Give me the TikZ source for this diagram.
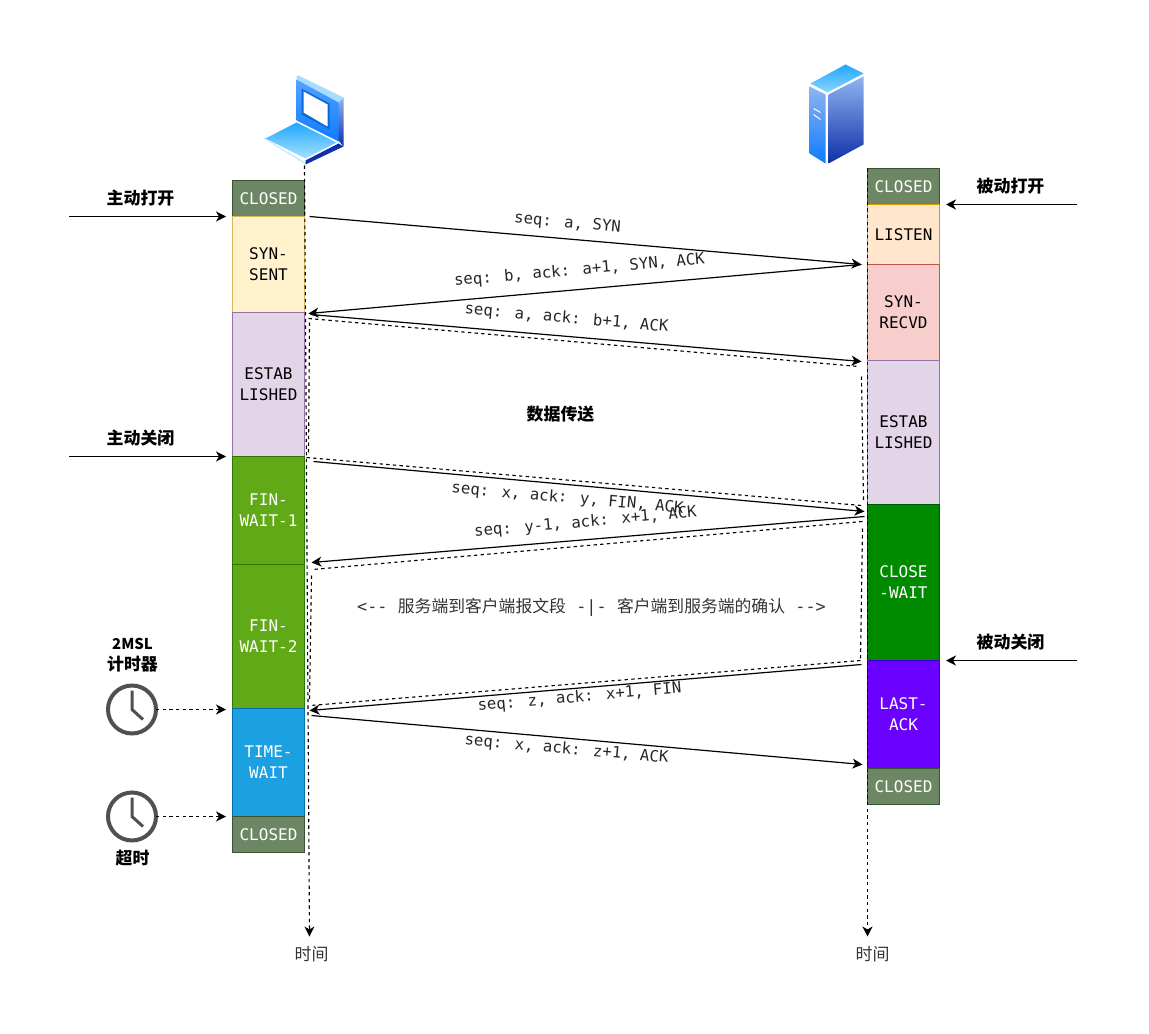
\documentclass[tikz,border=0pt]{standalone}
\usepackage{fontspec}
\usetikzlibrary{arrows.meta}
\newfontfamily\statefont{DejaVu Sans Mono}
\newfontfamily\cjkfont{Noto Sans CJK SC}
\definecolor{frameblue}{HTML}{0C7CFF}
\definecolor{skyblue}{HTML}{1EA8FF}
\definecolor{paleblue}{HTML}{A8E0FF}
\definecolor{navyblue}{HTML}{0F2FA8}
\definecolor{hazeblue}{HTML}{8FB4F0}
\definecolor{clockgray}{HTML}{505050}
\tikzset{
	statebox/.style={draw, minimum width=54pt, align=center, inner sep=0pt, line width=.75pt, font=\statefont\fontsize{12}{15.75}\selectfont},
	closedbox/.style={statebox, fill={rgb,255:red,109;green,135;blue,100}, draw={rgb,255:red,58;green,84;blue,49}, text=white, minimum height=27pt},
	yellowbox/.style={statebox, fill={rgb,255:red,255;green,242;blue,204}, draw={rgb,255:red,214;green,182;blue,86}},
	orangebox/.style={statebox, fill={rgb,255:red,255;green,230;blue,204}, draw={rgb,255:red,215;green,155;blue,0}},
	redbox/.style={statebox, fill={rgb,255:red,248;green,206;blue,204}, draw={rgb,255:red,184;green,84;blue,80}},
	purplebox/.style={statebox, fill={rgb,255:red,225;green,213;blue,231}, draw={rgb,255:red,150;green,115;blue,166}},
	limebox/.style={statebox, fill={rgb,255:red,96;green,169;blue,23}, draw={rgb,255:red,45;green,118;blue,0}, text=white},
	bluebox/.style={statebox, fill={rgb,255:red,27;green,161;blue,226}, draw={rgb,255:red,0;green,110;blue,175}, text=white},
	greenbox/.style={statebox, fill={rgb,255:red,0;green,138;blue,0}, draw={rgb,255:red,0;green,87;blue,0}, text=white},
	violetbox/.style={statebox, fill={rgb,255:red,106;green,0;blue,255}, draw={rgb,255:red,55;green,0;blue,204}, text=white},
	tip/.style={-{Stealth[length=7.5pt,width=7.5pt,inset=2.25pt]}},
	msg/.style={tip, line width=.9pt},
	dashline/.style={line width=.85pt, dash pattern=on 2.5pt off 2.5pt},
	seqlabel/.style={font=\statefont\fontsize{11.75}{15}\selectfont, text=black!85, inner sep=0pt},
	sidelabel/.style={font=\cjkfont\bfseries\fontsize{12.7}{16}\selectfont, align=center, inner sep=0pt},
	timelabel/.style={font=\cjkfont\fontsize{12.7}{15}\selectfont, text=black!80, inner sep=0pt},
	clockface/.style={circle, draw=clockgray, line width=3pt, minimum size=36pt, inner sep=0pt, outer sep=0pt},
	clockhand/.style={draw=clockgray, line width=2.25pt},
}
\begin{document}
\begin{tikzpicture}[x=.75pt,y=-.75pt]
\useasboundingbox (-.5,-.5) rectangle (1148.5,1033.5);
% laptop
\shade[top color=hazeblue, bottom color=navyblue] (338,102) -- (343,97) -- (343,146) -- (338,140) -- cycle;
\fill[white!60!skyblue] (296,76) -- (298,75) -- (343,97) -- (338,102) -- (296,79) -- cycle;
\shade[top color=frameblue!70, bottom color=frameblue] (296,79) -- (338,102) -- (338,141) -- (296,120) -- cycle;
\fill[frameblue!85!black] (301,88) -- (329,103) -- (329,129) -- (301,114) -- cycle;
\fill[white] (303,91) -- (327,104) -- (327,126) -- (303,112) -- cycle;
\fill[paleblue!70] (263,138) -- (265,137) -- (305,161) -- (305,164) -- cycle;
\fill[white] (265,138) -- (296,122) -- (338,142) -- (305,162) -- cycle;
\shade[top color=skyblue, bottom color=paleblue] (265,138) -- (296,122) -- (336,142) -- (305,158) -- cycle;
\fill[navyblue] (305,164) -- (305,160) -- (338,143) -- (343,146) -- cycle;
% server
\shade[top color=skyblue, bottom color=paleblue!80!skyblue] (845,64) -- (863,73) -- (827,92) -- (810,83) -- cycle;
\shade[top color=hazeblue, bottom color=frameblue] (809,86) -- (825,94) -- (825,163) -- (809,153) -- cycle;
\shade[top color=hazeblue, bottom color=navyblue] (828,94) -- (863,76) -- (863,144) -- (828,163) -- cycle;
\draw[white, line width=.75pt] (813,108) -- (820,112) (813,114) -- (820,119);
% client states
\node[closedbox] (cliClosed) at (268,198) {CLOSED};
\node[yellowbox, minimum height=72pt] (cliSent) at (268,264) {SYN-\\SENT};
\node[purplebox, minimum height=108pt] (cliEstab) at (268,384) {ESTAB\\LISHED};
\node[limebox, minimum height=81pt] (cliWaitA) at (268,510) {FIN-\\WAIT-1};
\node[limebox, minimum height=108pt] (cliWaitB) at (268,636) {FIN-\\WAIT-2};
\node[bluebox, minimum height=81pt] (cliTime) at (268,762) {TIME-\\WAIT};
\node[closedbox] (cliEnd) at (268,834) {CLOSED};
% server states
\node[closedbox] (srvClosed) at (903,186) {CLOSED};
\node[orangebox, minimum height=45pt] (srvListen) at (903,234) {LISTEN};
\node[redbox, minimum height=72pt] (srvRecvd) at (903,312) {SYN-\\RECVD};
\node[purplebox, minimum height=108pt] (srvEstab) at (903,432) {ESTAB\\LISHED};
\node[greenbox, minimum height=117pt] (srvWait) at (903,582) {CLOSE\\-WAIT};
\node[violetbox, minimum height=81pt] (srvLast) at (903,714) {LAST-\\ACK};
\node[closedbox] (srvEnd) at (903,786) {CLOSED};
% time lines
\coordinate (cliTop) at (304,165);
\coordinate (cliBot) at (309,936);
\coordinate (srvTop) at (867,168);
\coordinate (srvBot) at (867,936);
\draw[dashline, tip] (cliTop) -- (cliBot);
\draw[dashline, tip] (srvTop) -- (srvBot);
\node[timelabel] (cliLabel) at (311,954) {时间};
\node[timelabel] (srvLabel) at (872,954) {时间};
% messages
\coordinate (a1) at (309,216); \coordinate (a2) at (861,264);
\coordinate (b1) at (861,264); \coordinate (b2) at (308,313);
\coordinate (c1) at (310,314); \coordinate (c2) at (861,361);
\coordinate (d1) at (313,461); \coordinate (d2) at (864,511);
\coordinate (e1) at (864,516); \coordinate (e2) at (311,562);
\coordinate (f1) at (861,664); \coordinate (f2) at (309,710);
\coordinate (g1) at (311,715); \coordinate (g2) at (862,764);
\foreach \m in {a,b,c,d,e,f,g}{
	\draw[msg] (\m1) -- (\m2);
}
\node[seqlabel, rotate=-5] (seqA) at (567,223) {seq: a, SYN};
\node[seqlabel, rotate=5] (seqB) at (579,270) {seq: b, ack: a+1, SYN, ACK};
\node[seqlabel, rotate=-5] (seqC) at (566,318) {seq: a, ack: b+1, ACK};
\node[seqlabel, rotate=-5] (seqD) at (567,498) {seq: x, ack: y, FIN, ACK};
\node[seqlabel, rotate=5] (seqE) at (585,522) {seq: y-1, ack: x+1, ACK};
\node[seqlabel, rotate=5] (seqF) at (579,697) {seq: z, ack: x+1, FIN};
\node[seqlabel, rotate=-5] (seqG) at (566,749) {seq: x, ack: z+1, ACK};
% dashed outlines
\coordinate (p1) at (308,318); \coordinate (p2) at (858,366);
\coordinate (p3) at (861,376); \coordinate (p4) at (863,500);
\coordinate (p5) at (306,457); \coordinate (p6) at (861,505);
\coordinate (p7) at (309,322); \coordinate (p8) at (308,455);
\coordinate (q1) at (862,521); \coordinate (q2) at (312,569);
\coordinate (q3) at (862,528); \coordinate (q4) at (860,660);
\coordinate (q5) at (860,660); \coordinate (q6) at (310,705);
\coordinate (q7) at (311,575); \coordinate (q8) at (309,700);
\foreach \s/\e in {p1/p2,p3/p4,p5/p6,p7/p8,q1/q2,q3/q4,q5/q6,q7/q8}{
	\draw[dashline] (\s) -- (\e);
}
\node[font=\cjkfont\fontsize{12.6}{15}\selectfont, text=black!80, inner sep=0pt] (midNote) at (591,607) {{\statefont <--}\hspace{7.8pt}服务端到客户端报文段\hspace{7.8pt}{\statefont -|-}\hspace{7.8pt}客户端到服务端的确认\hspace{7.8pt}{\statefont -->}};
\node[sidelabel] (dataNote) at (560,414) {数据传送};
% side arrows
\node[sidelabel] (openA) at (140,198) {主动打开};
\node[sidelabel] (closeA) at (140,438) {主动关闭};
\node[sidelabel] (openB) at (1010,186) {被动打开};
\node[sidelabel] (closeB) at (1010,642) {被动关闭};
\coordinate (openAs) at (68.5,216); \coordinate (openAe) at (225.5,216);
\coordinate (closeAs) at (68.5,456); \coordinate (closeAe) at (225.5,456);
\coordinate (openBs) at (1076.5,204); \coordinate (openBe) at (945.5,204);
\coordinate (closeBs) at (1076.5,660); \coordinate (closeBe) at (945.5,660);
\foreach \s in {openA,closeA,openB,closeB}{
	\draw[msg] (\s s) -- (\s e);
}
% timers
\node[sidelabel] (timerNote) at (132,655) {{\fontsize{11.2}{16}\selectfont 2MSL}\\计时器};
\node[sidelabel] (overNote) at (132,858) {超时};
\coordinate (clkAe) at (225.5,709);
\coordinate (clkBe) at (225.5,816);
\foreach \c/\y in {clkA/709,clkB/816}{
	\node[clockface] (\c) at (131.5,\y) {};
	\draw[clockhand] (131.5,\y-19) -- (\c.center) -- ++(11,10);
	\draw[dashline, tip] (\c.east) -- (\c e);
}
\end{tikzpicture}
\end{document}
